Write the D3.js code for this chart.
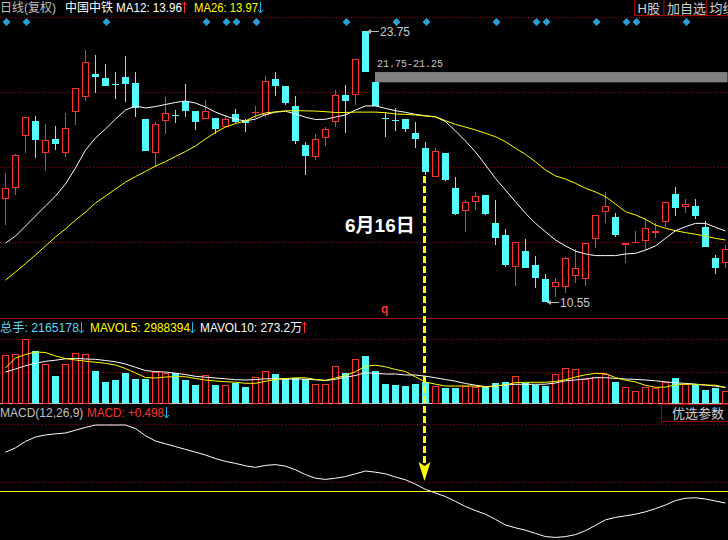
<!DOCTYPE html>
<html>
<head>
<meta charset="utf-8">
<script src="https://cdn.jsdelivr.net/npm/d3@7"></script>
<style>
  body { margin: 0; background: #000; overflow: hidden; }
  text { font-family: "Liberation Sans", "Noto Sans CJK SC", sans-serif; }
</style>
</head>
<body>
<script>
// K线数据
const open = [15.57,16.08,18.65,19.37,17.79,18.49,17.79,19.79,20.55,21.66,
  21.46,21.16,21.51,21.22,19.46,17.79,19.35,19.66,20.34,19.85,
  19.45,19.50,19.09,19.71,19.38,19.78,19.68,21.41,21.09,20.10,
  18.18,17.63,18.52,19.34,20.62,20.65,23.75,21.25,19.49,19.42,
  19.46,18.77,18.05,16.65,17.79,16.09,14.97,15.41,15.76,14.38,
  13.81,12.27,13.03,12.35,11.66,11.30,11.27,11.83,11.66,13.60,
  14.92,14.68,13.33,13.46,13.52,13.90,14.46,15.81,15.16,15.23,
  14.19,12.68,12.43]
const close = [16.10,17.73,19.55,18.44,18.44,18.23,19.01,20.96,22.23,21.51,
  21.09,21.15,21.18,19.98,17.92,19.22,19.74,19.65,19.87,19.33,
  19.85,18.99,19.45,19.33,19.25,19.79,21.31,21.09,20.26,18.41,
  17.68,18.47,18.96,20.62,20.35,22.37,21.75,20.10,19.48,19.41,
  18.98,18.47,16.90,17.90,16.49,14.84,15.41,15.73,14.84,13.65,
  12.35,13.49,12.22,11.73,10.56,11.54,12.68,12.19,13.41,14.79,
  15.23,13.81,13.41,13.49,14.14,14.01,15.41,15.14,15.31,14.75,
  13.24,12.19,13.12]
const high = [16.83,17.76,19.56,19.61,19.22,19.12,19.74,20.96,22.82,22.58,
  22.14,21.74,22.53,21.74,19.46,19.33,20.55,19.90,21.17,19.85,
  20.39,19.50,19.66,19.95,19.45,20.10,21.56,21.74,21.09,20.58,
  18.36,18.73,19.06,20.88,21.12,22.37,23.75,21.25,19.82,19.98,
  19.46,19.33,18.36,18.04,17.79,16.65,15.52,15.89,15.76,15.52,
  14.10,13.49,13.62,12.79,11.91,11.70,12.76,13.13,13.41,14.79,
  15.92,14.87,13.41,14.01,14.63,14.41,15.41,16.17,15.57,15.55,
  14.51,12.84,13.33]
const low = [14.30,15.76,17.79,17.58,16.95,17.95,17.60,19.17,20.34,20.73,
  21.07,20.44,20.31,19.58,17.92,17.14,18.73,19.28,19.55,18.93,
  19.45,18.73,19.09,19.25,18.85,19.50,19.58,20.58,20.15,18.25,
  16.74,17.47,18.15,19.05,18.77,20.15,21.75,20.10,18.57,18.89,
  18.82,18.04,16.74,16.65,16.44,14.79,13.97,15.03,14.79,13.33,
  12.24,11.34,12.22,11.22,10.55,10.81,10.97,11.46,11.34,13.19,
  14.38,13.73,12.46,13.46,13.08,13.68,14.22,14.75,14.87,14.58,
  13.24,11.91,12.19]

// 均线
const ma12 = [13.42,13.76,14.25,14.74,15.23,15.71,16.30,17.08,17.95,18.54,
  18.98,19.46,19.90,20.10,20.00,20.07,20.17,20.27,20.34,20.24,
  20.05,19.80,19.61,19.45,19.37,19.46,19.68,19.80,19.84,19.71,
  19.55,19.44,19.45,19.56,19.66,19.90,20.10,20.10,19.98,19.87,
  19.79,19.69,19.62,19.56,19.34,18.88,18.39,17.86,17.22,16.57,
  16.00,15.43,14.87,14.38,13.97,13.57,13.28,13.03,12.89,12.81,
  12.81,12.81,12.89,12.92,13.08,13.28,13.65,14.02,14.22,14.38,
  14.38,14.19,14.01]
const ma26 = [11.62,12.01,12.42,12.84,13.28,13.72,14.11,14.54,14.93,15.37,
  15.71,16.05,16.39,16.66,16.91,17.17,17.39,17.64,17.88,18.15,
  18.49,18.81,19.07,19.24,19.37,19.61,19.76,19.81,19.86,19.87,
  19.86,19.85,19.82,19.78,19.78,19.80,19.80,19.80,19.77,19.71,
  19.69,19.66,19.61,19.58,19.38,19.20,19.07,18.93,18.77,18.60,
  18.36,18.04,17.74,17.38,16.98,16.69,16.54,16.33,16.09,15.91,
  15.68,15.32,14.95,14.79,14.58,14.30,14.14,14.02,13.93,13.85,
  13.76,13.65,13.57]

// 成交量 (万手)
const vol = [960,980,1274,1040,780,540,780,994,980,646,
  426,460,606,480,480,620,606,606,460,360,
  554,360,354,394,326,514,640,580,506,506,
  474,380,380,740,606,874,940,646,380,360,
  340,380,426,340,306,306,340,314,314,394,
  420,540,406,360,340,574,694,674,480,526,
  574,420,314,240,314,294,414,494,380,380,
  260,306,240]
const mavol5 = [700,900,970,1020,1010,940,890,860,836,816,
  794,760,690,600,510,500,520,526,526,490,
  460,440,426,416,394,394,434,470,486,504,
  504,470,454,500,550,626,734,756,724,670,
  630,520,420,376,340,340,340,338,316,342,
  364,408,414,414,416,430,466,520,564,594,
  586,508,456,420,354,314,318,362,380,372,
  360,356,310]
const mavol10 = [620,680,746,794,834,856,884,894,880,874,
  850,824,780,714,650,628,620,596,568,534,
  516,500,484,466,460,470,484,486,480,480,
  476,464,450,474,516,550,608,592,580,580,
  560,560,536,504,470,436,390,356,328,340,
  360,374,374,374,376,400,444,462,482,506,
  506,492,480,472,460,444,424,404,392,378,
  358,338,312]

// MACD DIF
const dif = [0.97,1.08,1.24,1.35,1.40,1.43,1.45,1.52,1.59,1.65,
  1.65,1.65,1.65,1.56,1.38,1.25,1.18,1.11,1.04,0.97,
  0.90,0.81,0.74,0.69,0.63,0.59,0.64,0.66,0.62,0.53,
  0.41,0.32,0.29,0.32,0.36,0.43,0.50,0.47,0.43,0.35,
  0.28,0.17,0.04,-0.05,-0.14,-0.26,-0.39,-0.49,-0.58,-0.71,
  -0.85,-0.92,-0.98,-1.06,-1.14,-1.16,-1.14,-1.09,-0.99,-0.86,
  -0.72,-0.66,-0.62,-0.58,-0.52,-0.44,-0.35,-0.24,-0.18,-0.17,
  -0.20,-0.25,-0.30]

// 信号菱形 (candle indices)
const signals = [0,2,10,20,22,23,25,34,39,42,49,53,54,59,62,63,68]

// 缺口, 高低点, 标注
const gapFrom = 37, gapHigh = 21.75, gapLow = 21.25
const peakIndex = 36, troughIndex = 54
const markIndex = 42, markLabel = "6月16日"

const RED = "#ff3232", CYAN = "#54fcfc", GRID = "#9a0000", ARROWBLUE = "#28b4e0"
const W = 728, H = 540

const svg = d3.select("body").append("svg")
    .attr("width", W)
    .attr("height", H)
    .style("background", "#000")

const x = d3.scaleLinear().domain([0, open.length - 1]).range([5.5, 725.5])
const y = d3.scaleLinear().domain([10.55, 23.75]).range([302, 31])
const yv = d3.scaleLinear().domain([0, 1280]).range([403, 339])
const ym = d3.scaleLinear().domain([-1, 1]).range([531, 451])

// 网格
const dotted = [17.5, 92.5, 167.5, 242.5, 339.5, 372.5, 424.5, 482.5]
svg.selectAll("line.grid")
    .data(dotted)
    .enter()
    .append("line")
    .attr("x1", 0).attr("x2", W)
    .attr("y1", d => d).attr("y2", d => d)
    .attr("stroke", GRID)
    .attr("stroke-dasharray", "1,2")
    .attr("shape-rendering", "crispEdges")

svg.append("line").attr("x1", 0).attr("x2", W).attr("y1", 318.5).attr("y2", 318.5)
    .attr("stroke", "#a00000").attr("shape-rendering", "crispEdges")
svg.append("line").attr("x1", 0).attr("x2", W).attr("y1", 403.5).attr("y2", 403.5)
    .attr("stroke", "#c0c0c0").attr("shape-rendering", "crispEdges")
svg.append("line").attr("x1", 0).attr("x2", W).attr("y1", Math.round(ym(0)) + 0.5).attr("y2", Math.round(ym(0)) + 0.5)
    .attr("stroke", "#ffff00").attr("shape-rendering", "crispEdges")

// 缺口灰带
svg.append("rect")
    .attr("x", x(gapFrom) - 0.5)
    .attr("y", y(gapHigh))
    .attr("width", W - x(gapFrom))
    .attr("height", y(gapLow) - y(gapHigh))
    .attr("fill", "#808080")
svg.append("text")
    .attr("x", x(gapFrom) + 1.5)
    .attr("y", y(gapHigh) - 5)
    .attr("fill", "#c8c8c8")
    .style("font-family", "'Liberation Mono', monospace")
    .style("font-size", "10px")
    .text(gapHigh.toFixed(2) + "-" + gapLow.toFixed(2))

// 蜡烛
const idx = d3.range(open.length)
const isUp = i => close[i] > open[i]
const k = svg.append("g").attr("shape-rendering", "crispEdges")

idx.forEach(i => {
    const cx = x(i)
    const col = isUp(i) ? RED : CYAN
    const top = Math.round(y(Math.max(open[i], close[i])))
    const bot = Math.round(y(Math.min(open[i], close[i])))
    const yh = Math.round(y(high[i])), yl = Math.round(y(low[i]))
    if (yh < top) k.append("line").attr("x1", cx).attr("x2", cx).attr("y1", yh).attr("y2", top).attr("stroke", col)
    if (yl > bot) k.append("line").attr("x1", cx).attr("x2", cx).attr("y1", bot).attr("y2", yl).attr("stroke", col)
    if (bot - top < 2) {
        k.append("line").attr("x1", cx - 3.5).attr("x2", cx + 3.5)
            .attr("y1", top + 0.5).attr("y2", top + 0.5).attr("stroke", col)
    } else if (isUp(i)) {
        k.append("rect").attr("x", cx - 3).attr("y", top + 0.5)
            .attr("width", 6).attr("height", bot - top - 1)
            .attr("fill", "none").attr("stroke", col)
    } else {
        k.append("rect").attr("x", cx - 3.5).attr("y", top)
            .attr("width", 7).attr("height", bot - top)
            .attr("fill", col)
    }
})

// 均线
const priceLine = d3.line().x((d, i) => x(i)).y(d => y(d))
svg.append("path").attr("d", priceLine(ma12)).attr("fill", "none").attr("stroke", "#ffffff").attr("stroke-width", 1)
svg.append("path").attr("d", priceLine(ma26)).attr("fill", "none").attr("stroke", "#ffff00").attr("stroke-width", 1)

// 信号菱形
svg.selectAll("path.sig")
    .data(signals)
    .enter()
    .append("path")
    .attr("d", d3.symbol().type(d3.symbolDiamond2).size(40))
    .attr("transform", d => `translate(${x(d) + 1},22)`)
    .attr("fill", "#2d9fd3")

// 最高/最低价标注
function priceTag(i, v) {
    const x0 = x(i) + 1.5, yy = Math.round(y(v)) + 0.5
    svg.append("line").attr("x1", x0).attr("x2", x0 + 12).attr("y1", yy).attr("y2", yy)
        .attr("stroke", "#b8b8b8")
    svg.append("path").attr("d", `M${x0},${yy}L${x0 + 4},${yy - 2.5}L${x0 + 4},${yy + 2.5}Z`)
        .attr("fill", "#b8b8b8")
    svg.append("text").attr("x", x0 + 13).attr("y", yy + 4.5)
        .attr("fill", "#c4ccd8").style("font-size", "12px")
        .text(v.toFixed(2))
}
priceTag(peakIndex, high[peakIndex])
priceTag(troughIndex, low[troughIndex])

// 成交量
const v = svg.append("g").attr("shape-rendering", "crispEdges")
idx.forEach(i => {
    const cx = x(i)
    const t = Math.round(yv(vol[i]))
    if (isUp(i)) {
        v.append("rect").attr("x", cx - 3).attr("y", t + 0.5)
            .attr("width", 6).attr("height", 403 - t - 0.5)
            .attr("fill", "none").attr("stroke", RED)
    } else {
        v.append("rect").attr("x", cx - 3.5).attr("y", t)
            .attr("width", 7).attr("height", 403 - t)
            .attr("fill", CYAN)
    }
})
const volLine = d3.line().x((d, i) => x(i)).y(d => yv(d))
svg.append("path").attr("d", volLine(mavol10)).attr("fill", "none").attr("stroke", "#ffffff")
svg.append("path").attr("d", volLine(mavol5)).attr("fill", "none").attr("stroke", "#ffff00")

// MACD
const macdLine = d3.line().x((d, i) => x(i)).y(d => ym(d))
svg.append("path").attr("d", macdLine(dif)).attr("fill", "none").attr("stroke", "#ffffff")

// 6月16日 标记箭头
const ax = x(markIndex) - 1
svg.append("line")
    .attr("x1", ax).attr("x2", ax)
    .attr("y1", y(low[markIndex]) + 1).attr("y2", 466)
    .attr("stroke", "#ffff00").attr("stroke-width", 3)
    .attr("stroke-dasharray", "7,3")
svg.append("path")
    .attr("d", `M${ax - 6},462L${ax},466L${ax + 6},462L${ax},481Z`)
    .attr("fill", "#ffff00")
svg.append("text")
    .attr("x", 345).attr("y", 232)
    .attr("fill", "#ffffff")
    .style("font-size", "19px").style("font-weight", "bold")
    .text(markLabel)

svg.append("text").attr("x", 381).attr("y", 313)
    .attr("fill", RED).style("font-size", "12px").style("font-weight", "bold")
    .text("q")

// 标题文字: 文字 + 紧随其后的细箭头
function arrow(ax0, yy, up, col) {
    const a = Math.round(ax0) + 2.5
    const t = yy - 10, b = yy + 1
    svg.append("line").attr("x1", a).attr("x2", a).attr("y1", t).attr("y2", b)
        .attr("stroke", col).attr("shape-rendering", "crispEdges")
    const tip = up ? t : b, d = up ? 3 : -3
    svg.append("path").attr("d", `M${a - 2.5},${tip + d}L${a},${tip}L${a + 2.5},${tip + d}`)
        .attr("fill", "none").attr("stroke", col)
}
function titleRow(parts, yy) {
    parts.forEach(p => {
        const t = svg.append("text")
            .attr("x", p[0])
            .attr("y", yy)
            .attr("fill", p[2])
            .style("font-size", "12px")
            .text(p[1])
        if (p[3]) {
            t.attr("textLength", p[4]).attr("lengthAdjust", "spacingAndGlyphs")
            arrow(p[0] + p[4], yy, p[3] === "up", p[3] === "up" ? RED : ARROWBLUE)
        }
    })
}
titleRow([
    [0, "日线(复权)", "#c0c0c0"],
    [65, "中国中铁", "#ffffff"],
    [116, "MA12: 13.96", "#ffffff", "up", 66],
    [194, "MA26: 13.97", "#ffff00", "down", 64]
], 12)
titleRow([
    [0, "总手: 2165178", "#5cd8f8", "down", 79],
    [90, "MAVOL5: 2988394", "#ffff00", "down", 100],
    [200, "MAVOL10: 273.2万", "#ffffff", "up", 102]
], 332)
titleRow([
    [0, "MACD(12,26,9)", "#c0c0c0"],
    [87, "MACD: +0.498", RED, "down", 77]
], 417)

// 按钮
const buttons = [["H股", 634.5, 29.5], ["加自选", 664, 42.5], ["均线", 706.5, 30]]
buttons.forEach(b => {
    svg.append("rect").attr("x", b[1]).attr("y", -1).attr("width", b[2]).attr("height", 16.5)
        .attr("fill", "#000").attr("stroke", "#a00000")
    svg.append("text").attr("x", b[1] + 3).attr("y", 12.5)
        .attr("fill", "#d0d0d0").style("font-size", "13px").text(b[0])
})
svg.append("rect").attr("x", 661.5).attr("y", 404.5).attr("width", 70).attr("height", 17)
    .attr("fill", "#000").attr("stroke", "#a00000")
svg.append("text").attr("x", 672).attr("y", 418)
    .attr("fill", "#d0d0d0").style("font-size", "13px").text("优选参数")
</script>
</body>
</html>
